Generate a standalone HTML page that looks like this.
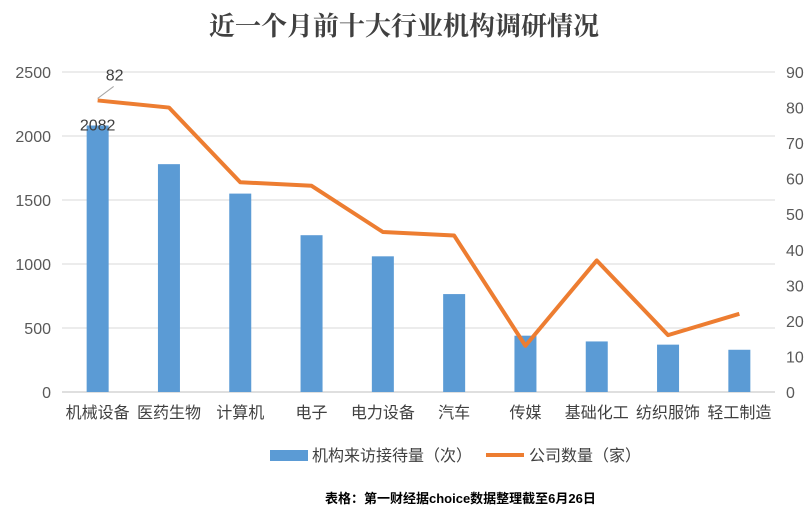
<!DOCTYPE html>
<html><head><meta charset="utf-8"><style>
body{margin:0;background:#fff;}
svg{display:block;font-family:"Liberation Sans","Noto Sans CJK SC",sans-serif;}
</style></head><body>
<svg id="chart" width="812" height="519">
<text x="404" y="35" text-anchor="middle" font-size="26" font-weight="bold" fill="#404040" font-family="'Noto Serif CJK SC',serif">近一个月前十大行业机构调研情况</text>
<g id="grid"></g><g id="bars"></g><g id="line"></g><g id="axes"></g>
<g>
<rect x="270" y="450" width="38" height="11" fill="#5b9bd5"/>
<text x="312" y="461" font-size="16" fill="#404040">机构来访接待量（次）</text>
<line x1="486" y1="455" x2="524" y2="455" stroke="#ed7d31" stroke-width="4"/>
<text x="529" y="461" font-size="16" fill="#404040">公司数量（家）</text>
</g>
<text x="325" y="503" font-size="13" font-weight="bold" fill="#000">表格：第一财经据choice数据整理截至6月26日</text>
</svg>
<script>
const categories=["机械设备","医药生物","计算机","电子","电力设备","汽车","传媒","基础化工","纺织服饰","轻工制造"];
const visits=[2082,1780,1550,1225,1060,765,440,395,370,330];
const companies=[82,80,59,58,45,44,13,37,16,22];
const leftTicks=[0,500,1000,1500,2000,2500];
const rightTicks=[0,10,20,30,40,50,60,70,80,90];
const NS="http://www.w3.org/2000/svg";
const L=62,R=775,T=72,B=392;
const step=(R-L)/categories.length;
const xC=i=>L+step*(i+0.5);
const yL=v=>B-(v/2500)*(B-T);
const yR=v=>B-(v/90)*(B-T);
function mk(tag,attrs,parent,text){const e=document.createElementNS(NS,tag);for(const k in attrs)e.setAttribute(k,attrs[k]);if(text!==undefined)e.textContent=text;document.getElementById(parent).appendChild(e);return e;}
leftTicks.forEach(t=>{
 const g=mk('line',{x1:L,x2:R,y1:yL(t),y2:yL(t),stroke:t===0?'#bfbfbf':'#d9d9d9','stroke-width':1},'grid');
 
 
 const tx=mk('text',{x:51,y:yL(t)+6,'text-anchor':'end','font-size':16,fill:'#595959'},'axes',t);
 
 
});
rightTicks.forEach(t=>{
 const tx=mk('text',{x:786,y:yR(t)+6,'font-size':16,fill:'#595959'},'axes',t);
 
 
});
categories.forEach((c,i)=>{
 const tx=mk('text',{x:xC(i),y:418,'text-anchor':'middle','font-size':16,fill:'#404040'},'axes',c);
 
 
 const b=mk('rect',{x:xC(i)-11,y:yL(visits[i]),width:22,height:B-yL(visits[i]),fill:'#5b9bd5'},'bars');
 
 
});
const pts=companies.map((v,i)=>xC(i)+','+yR(v)).join(' ');
const pl=mk('polyline',{points:pts,fill:'none',stroke:'#ed7d31','stroke-width':4,'stroke-linejoin':'round'},'line');


const bl=mk('text',{x:xC(0),y:yL(visits[0])+5,'text-anchor':'middle','font-size':16,fill:'#404040'},'axes',visits[0]);


const ll=mk('line',{x1:xC(0),y1:yR(companies[0])-2,x2:xC(0)+16,y2:yR(companies[0])-14,stroke:'#a6a6a6','stroke-width':1},'axes');


const lv=mk('text',{x:xC(0)+17,y:yR(companies[0])-20,'text-anchor':'middle','font-size':16,fill:'#404040'},'axes',companies[0]);


</script>
</body></html>
